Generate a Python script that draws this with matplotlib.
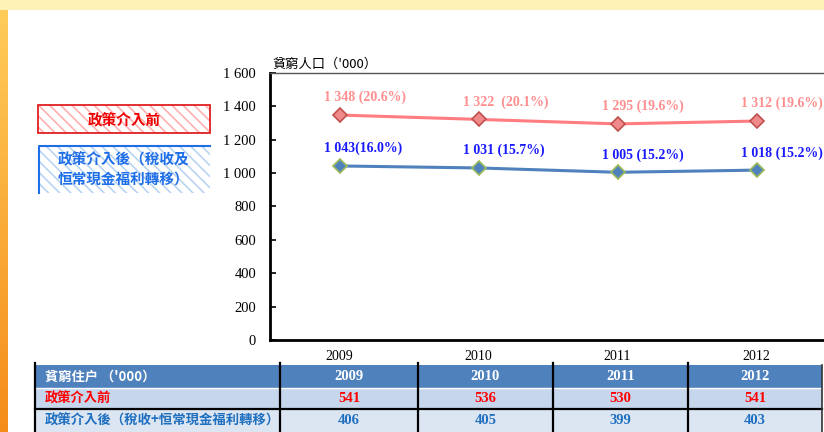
import matplotlib
matplotlib.use('Agg')
import matplotlib.pyplot as plt
import numpy as np
from matplotlib.patches import Rectangle

# ---------------- data ----------------
years = ['2009', '2010', '2011', '2012']
before = [1348, 1322, 1295, 1312]
after = [1043, 1031, 1005, 1018]
before_labels = ['1 348 (20.6%)', '1 322  (20.1%)', '1 295 (19.6%)', '1 312 (19.6%)']
after_labels = ['1 043(16.0%)', '1 031 (15.7%)', '1 005 (15.2%)', '1 018 (15.2%)']
yticks = [0, 200, 400, 600, 800, 1000, 1200, 1400, 1600]
table_header = "貧窮住户 （'000）"
row_names = ['政策介入前', '政策介入後（稅收+恒常現金福利轉移）']
hh_before = [541, 536, 530, 541]
hh_after = [406, 405, 399, 403]
legend_before = '政策介入前'
legend_after = '政策介入後（稅收及\n恒常現金福利轉移）'
ylabel = "貧窮人口（'000）"

W, H = 824, 432
CJK = ['Noto Sans CJK TC', 'DejaVu Sans']
SERIF = ['Liberation Serif', 'DejaVu Serif']
plt.rcParams['hatch.linewidth'] = 1.2

fig = plt.figure(figsize=(W / 100, H / 100), dpi=100)

# ---------------- background ----------------
bg = fig.add_axes([0, 0, 1, 1], zorder=0)
bg.set_xlim(0, W); bg.set_ylim(H, 0); bg.axis('off')
yy = np.linspace(0, 1, 200)[:, None]
top = np.array([1.0, 0.95, 0.72])
left_top = np.array([1.0, 0.80, 0.35])
left_bot = np.array([0.96, 0.55, 0.10])
img = np.ones((200, 400, 3))
img[:] = top * (1 - 0.3 * yy[..., None]) + 0.3 * yy[..., None] * np.array([1.0, 0.85, 0.5])
bg.imshow(img, extent=[0, W, H, 0], aspect='auto', zorder=0)
strip = left_top * (1 - yy[..., None]) + left_bot * yy[..., None]
strip = np.repeat(strip, 4, axis=1)
bg.imshow(strip, extent=[0, 8, H, 10], aspect='auto', zorder=1)
bg.add_patch(Rectangle((8, 10), W - 8, H - 10, facecolor='white', edgecolor='none', zorder=2))

# ---------------- main chart ----------------
ax_l, ax_r, ax_t, ax_b = 270, 826, 73, 340
ax = fig.add_axes([ax_l / W, (H - ax_b) / H, (ax_r - ax_l) / W, (ax_b - ax_t) / H], zorder=1)
ax.set_facecolor('none')
x = np.arange(len(years))
ax.plot(x, before, color='#ff7c80', lw=2.2, marker='D', markersize=7.5,
        markerfacecolor='#f08a8a', markeredgecolor='#c0504d', markeredgewidth=1.2, zorder=3)
ax.plot(x, after, color='#4f81bd', lw=2.2, marker='D', markersize=7.5,
        markerfacecolor='#4f81bd', markeredgecolor='#9bbb59', markeredgewidth=1.2, zorder=3)
for xi, v, lab in zip(x, before, before_labels):
    ax.annotate(lab, (xi, v), xytext=(-11, 12.5), textcoords='offset points', ha='left', va='center',
                color='#ff8f8f', fontsize=10, fontweight='bold', family=SERIF)
for xi, v, lab in zip(x, after, after_labels):
    ax.annotate(lab, (xi, v), xytext=(-11, 12.5), textcoords='offset points', ha='left', va='center',
                color='#1a1aff', fontsize=10, fontweight='bold', family=SERIF)
ax.set_xlim(-0.5, len(years) - 0.5)
ax.set_ylim(0, 1600)
ax.set_yticks(yticks)
ax.set_yticklabels([f'{v:,}'.replace(',', ' ') for v in yticks], family=SERIF, fontsize=10.5)
ax.set_xticks(x)
ax.set_xticklabels(years, family=SERIF, fontsize=10)
ax.tick_params(axis='y', direction='in', length=4, width=1.2, pad=10)
ax.tick_params(axis='x', length=0, pad=7)
for s in ['left', 'bottom']:
    ax.spines[s].set_linewidth(2)
    ax.spines[s].set_color('black')
ax.spines['top'].set_linewidth(1)
ax.spines['top'].set_color('#555555')
ax.spines['right'].set_visible(False)
fig.text(272 / W, (H - 64) / H, ylabel, family=CJK, fontsize=9.5, ha='left', va='center')

# ---------------- overlay: legend boxes & table ----------------
ov = fig.add_axes([0, 0, 1, 1], zorder=2)
ov.set_xlim(0, W); ov.set_ylim(H, 0); ov.axis('off'); ov.set_facecolor('none')

ov.add_patch(Rectangle((38, 105), 172, 28, facecolor='white', edgecolor='#ffb0b0', hatch='\\\\\\', lw=0))
ov.add_patch(Rectangle((38, 105), 172, 28, facecolor='none', edgecolor='#e02020', lw=1.3))
ov.text(124, 119, legend_before, color='#ee0000', fontsize=10.5, fontweight='bold', family=CJK,
        ha='center', va='center')
ov.add_patch(Rectangle((39, 146), 171, 47, facecolor='white', edgecolor='#b8d4f2', hatch='\\\\\\', lw=0))
ov.plot([39, 39, 210], [193, 146, 146], color='#1e6ee8', lw=1.5)
ov.text(124, 169, legend_after, color='#1e6ee8', fontsize=10.5, fontweight='bold', family=CJK,
        ha='center', va='center', linespacing=1.35)

col_edges = [35, 280, 418, 553, 688, 822]
row_edges = [365, 388, 409, 432]
row_fill = ['#4f81bd', '#c6d6ec', '#dce6f2']
for r in range(3):
    ov.add_patch(Rectangle((col_edges[0], row_edges[r]), col_edges[-1] - col_edges[0],
                           row_edges[r + 1] - row_edges[r], facecolor=row_fill[r], edgecolor='none'))
ov.plot([col_edges[0], col_edges[-1]], [row_edges[1], row_edges[1]], color='white', lw=1)
ov.plot([col_edges[0], col_edges[-1]], [row_edges[2], row_edges[2]], color='black', lw=1.6)
for cx in col_edges[:-1]:
    ov.plot([cx, cx], [row_edges[0] - 2, H], color='black', lw=1.6)
ov.plot([col_edges[-1], col_edges[-1]], [row_edges[0], H], color='#333333', lw=1.2)

def centers(edges):
    return [(a + b) / 2 for a, b in zip(edges[:-1], edges[1:])]

rc = centers(row_edges)
cc = centers(col_edges[1:])
ov.text(45, rc[0], table_header, color='white', fontsize=9.5, fontweight='bold', family=CJK,
        ha='left', va='center')
ov.text(45, rc[1], row_names[0], color='#ff0000', fontsize=9.5, fontweight='bold', family=CJK,
        ha='left', va='center')
ov.text(45, rc[2], row_names[1], color='#1f6fc0', fontsize=9.6, fontweight='bold', family=CJK,
        ha='left', va='center')
for c, yr, b, a in zip(cc, years, hh_before, hh_after):
    ov.text(c, rc[0], yr, color='white', fontsize=10.5, fontweight='bold', family=SERIF, ha='center', va='center')
    ov.text(c, rc[1], str(b), color='#ff0000', fontsize=10.5, fontweight='bold', family=SERIF, ha='center', va='center')
    ov.text(c, rc[2], str(a), color='#1f6fc0', fontsize=10.5, fontweight='bold', family=SERIF, ha='center', va='center')

fig.savefig('out.png', dpi=100)
